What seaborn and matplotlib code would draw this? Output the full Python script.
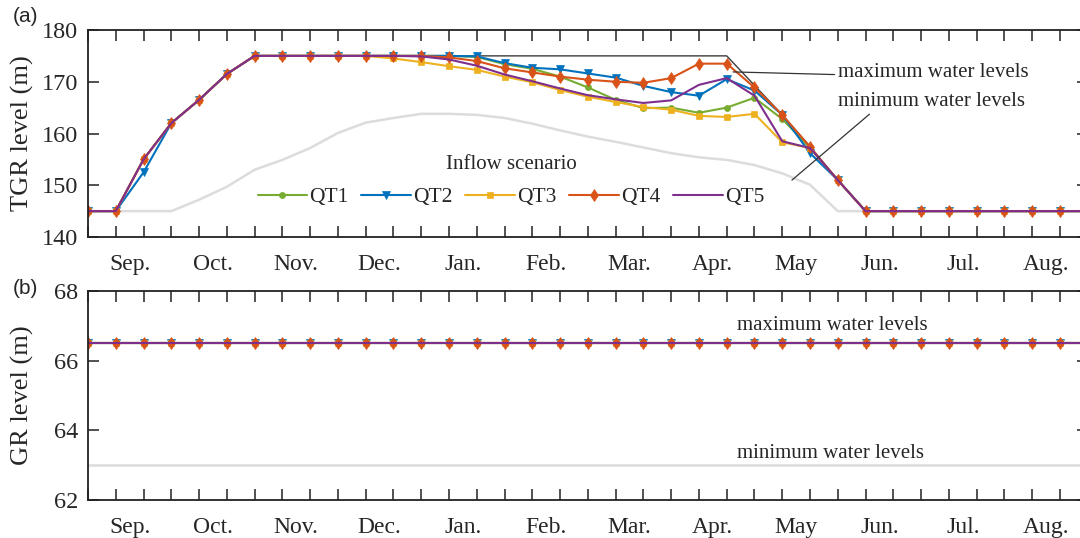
import numpy as np
import matplotlib
matplotlib.use("Agg")
import matplotlib.pyplot as plt
import seaborn as sns

# ten-day operating periods, starting late August
periods = list(range(37))
months = ["Sep.", "Oct.", "Nov.", "Dec.", "Jan.", "Feb.", "Mar.", "Apr.",
          "May", "Jun.", "Jul.", "Aug."]

# TGR water level (m) for each inflow scenario
qt1 = [145, 145, 155, 162, 166.5, 171.5, 175, 175, 175, 175, 175,
       175, 175, 175, 174.8, 173.4, 172.5, 171.0, 168.9, 166.5, 164.9, 165.0,
       164.0, 165.0, 166.9, 162.8, 157.2, 151.0,
       145, 145, 145, 145, 145, 145, 145, 145, 145]
qt2 = [145, 145, 152.5, 162, 166.5, 171.5, 175, 175, 175, 175, 175,
       175, 175, 175, 174.9, 173.6, 172.7, 172.4, 171.6, 170.8, 169.2, 168.0,
       167.3, 170.5, 168.3, 163.6, 156.2, 151.0,
       145, 145, 145, 145, 145, 145, 145, 145, 145]
qt3 = [145, 145, 155, 162, 166.5, 171.5, 175, 175, 175, 175, 175,
       174.5, 173.8, 173.0, 172.3, 171.0, 169.9, 168.4, 167.1, 166.1, 165.1, 164.6,
       163.4, 163.2, 163.8, 158.3, 157.2, 151.0,
       145, 145, 145, 145, 145, 145, 145, 145, 145]
qt4 = [145, 145, 155, 162, 166.5, 171.5, 175, 175, 175, 175, 175,
       175, 175, 174.7, 174.0, 172.6, 171.8, 171.0, 170.4, 170.0, 169.8, 170.7,
       173.5, 173.5, 168.9, 163.6, 157.4, 151.0,
       145, 145, 145, 145, 145, 145, 145, 145, 145]
qt5 = [145, 145, 155, 162, 166.5, 171.5, 175, 175, 175, 175, 175,
       175, 174.9, 174.3, 173.1, 171.4, 170.1, 168.7, 167.4, 166.6, 165.9, 166.4,
       169.4, 170.7, 167.3, 158.5, 157.2, 151.0,
       145, 145, 145, 145, 145, 145, 145, 145, 145]

# TGR operating bounds (m)
tgr_min = [145, 145, 145, 145, 147.2, 149.7, 153.0, 154.9, 157.2, 160.1, 162.1,
           163.0, 163.8, 163.8, 163.6, 163.0, 161.9, 160.6, 159.4, 158.4, 157.3, 156.2,
           155.4, 154.9, 153.9, 152.3, 150.1, 145,
           145, 145, 145, 145, 145, 145, 145, 145, 145]
max_periods = list(range(6, 29))
tgr_max = [175, 175, 175, 175, 175, 175, 175, 175, 175, 175, 175, 175,
           175, 175, 175, 175, 175, 175, 169.3, 163.6, 157.5, 151.0, 145]

# GR water level (m) and its lower bound
gr_level = [66.5] * 37
gr_min = [63.0] * 37

scenarios = ["QT1", "QT2", "QT3", "QT4", "QT5"]
tgr_series = [qt1, qt2, qt3, qt4, qt5]
colors = ["#77AC30", "#0072BD", "#EDB120", "#D95319", "#7E2F8E"]
markers = ["o", "v", "s", "d", None]
msizes = [4.4, 5.8, 4.4, 6.5, 0]

sns.set_style("white")
plt.rcParams["font.family"] = ["Liberation Serif", "DejaVu Serif"]

W, H = 1080, 538
fig = plt.figure(figsize=(W / 100, H / 100), dpi=100)
step = 27.77
ax1 = fig.add_axes([88 / W, (H - 237) / H, 36 * step / W, 207 / H])
ax2 = fig.add_axes([88 / W, (H - 500) / H, 36 * step / W, 209 / H])


def style_axes(ax, ylim, yticks):
    ax.set_xlim(0, 36)
    ax.set_ylim(*ylim)
    ax.set_yticks(yticks)
    ax.set_xticks(periods)
    ax.set_xticklabels([])
    ax.set_xticks(np.arange(12) * 3 + 1.5, minor=True)
    ax.set_xticklabels(months, minor=True)
    ax.tick_params(axis="x", which="major", direction="in", length=8, width=1.1,
                   top=True, bottom=True, color="#222222")
    ax.tick_params(axis="x", which="minor", length=0, pad=12, labelsize=17)
    ax.tick_params(axis="y", which="major", direction="in", length=8, width=1.1,
                   left=True, right=True, pad=7, labelsize=17.5, color="#222222")
    for sp in ax.spines.values():
        sp.set_linewidth(1.3)
        sp.set_color("#222222")
    ax.grid(False)


# panel (a): TGR
sns.lineplot(x=periods, y=tgr_min, ax=ax1, color="#DCDCDC", lw=1.8, zorder=1)
sns.lineplot(x=max_periods, y=tgr_max, ax=ax1, color="#3C3C3C", lw=1.0, zorder=1.5)
for name, vals, c, m, ms in zip(scenarios, tgr_series, colors, markers, msizes):
    kw = dict(marker=m, markersize=ms, markeredgecolor=c, markerfacecolor=c,
              markeredgewidth=0.5) if m else {}
    sns.lineplot(x=periods, y=vals, ax=ax1, color=c, lw=1.5, label=name,
                 zorder=2, **kw)

style_axes(ax1, (140, 180), [140, 150, 160, 170, 180])
ax1.set_xlabel("")
ax1.set_ylabel("TGR level (m)", fontsize=19)
ax1.yaxis.set_label_coords(-54 / (36 * step), 0.5)

handles, labels = ax1.get_legend_handles_labels()
leg = ax1.legend(handles, labels, ncol=5, title="Inflow scenario", frameon=False,
                 loc="center", bbox_to_anchor=(0.423, 0.27), fontsize=15.5,
                 title_fontsize=15, handlelength=2.3, handletextpad=0.1,
                 columnspacing=0.6, borderpad=0.1, labelspacing=0.6)

ax1.annotate("maximum water levels", xy=(23.23, 171.9), xytext=(27.0, 170.87),
             fontsize=15, ha="left", va="baseline",
             arrowprops=dict(arrowstyle="-", color="#333333", lw=0.9,
                             shrinkA=0, shrinkB=0, relpos=(0, 0.4)))
ax1.annotate("minimum water levels", xy=(25.35, 151.0), xytext=(27.0, 165.33),
             fontsize=15, ha="left", va="baseline",
             arrowprops=dict(arrowstyle="-", color="#333333", lw=0.9,
                             shrinkA=0, shrinkB=0, relpos=(0.19, 0)))

# panel (b): GR
sns.lineplot(x=periods, y=gr_min, ax=ax2, color="#DCDCDC", lw=1.8, zorder=1)
for name, c, m, ms in zip(scenarios, colors, markers, msizes):
    kw = dict(marker=m, markersize=ms, markeredgecolor=c, markerfacecolor=c,
              markeredgewidth=0.5) if m else {}
    sns.lineplot(x=periods, y=gr_level, ax=ax2, color=c, lw=1.5, zorder=2,
                 legend=False, **kw)

style_axes(ax2, (62, 68), [62, 64, 66, 68])
ax2.set_xlabel("")
ax2.set_ylabel("GR level (m)", fontsize=19)
ax2.yaxis.set_label_coords(-54 / (36 * step), 0.5)
ax2.text(23.37, 66.88, "maximum water levels", fontsize=15, ha="left", va="baseline")
ax2.text(23.37, 63.20, "minimum water levels", fontsize=15, ha="left", va="baseline")

fig.text(13 / W, 1 - 16 / H, "(a)", family="Liberation Sans", fontsize=15,
         ha="left", va="center")
fig.text(13 / W, 1 - 289 / H, "(b)", family="Liberation Sans", fontsize=15,
         ha="left", va="center")

fig.savefig("out.png", dpi=100)
